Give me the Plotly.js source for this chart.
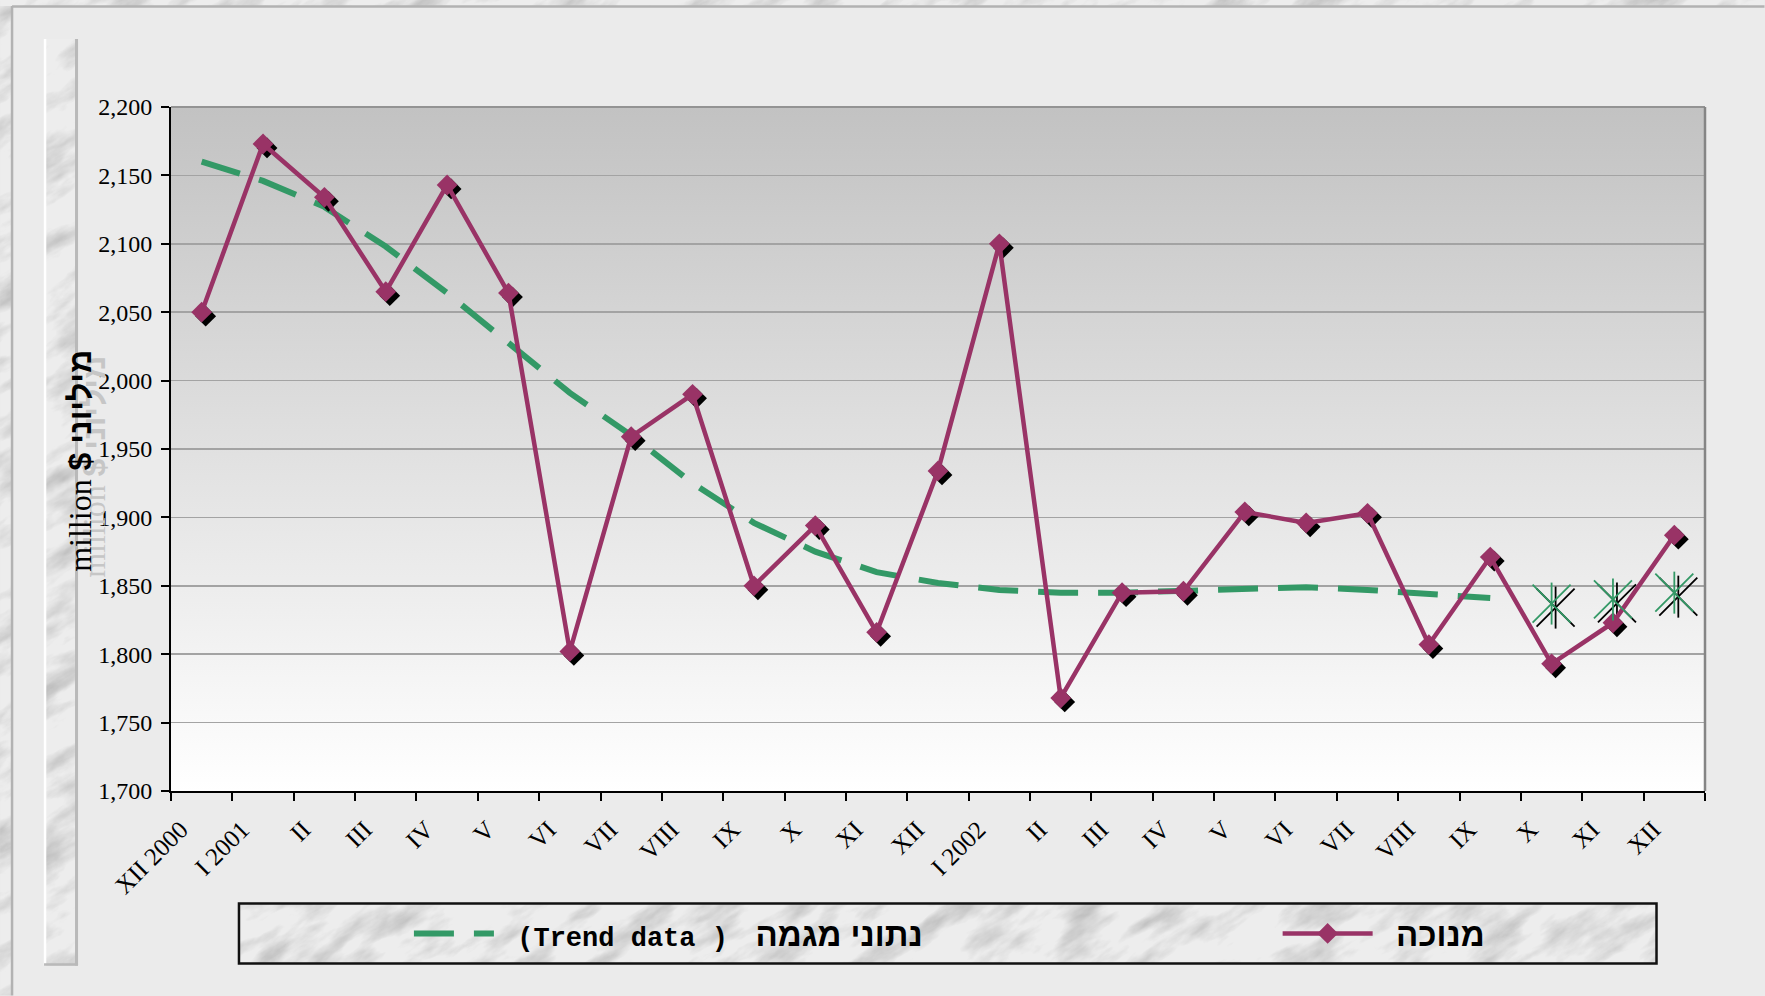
<!DOCTYPE html>
<html>
<head>
<meta charset="utf-8">
<script src="https://cdn.plot.ly/plotly-3.0.1.min.js"></script>
<style>
  html, body { margin: 0; padding: 0; background: #ebebeb; }
  #chart { width: 1765px; height: 996px; }
</style>
</head>
<body>
<div id="chart"></div>
<script>
// ---------------------------------------------------------------------------
//  Monthly series, XII 2000 – XII 2002 (million $)
// ---------------------------------------------------------------------------
const periods = ['2000-12', '2001-01', '2001-02', '2001-03', '2001-04', '2001-05', '2001-06',
  '2001-07', '2001-08', '2001-09', '2001-10', '2001-11', '2001-12', '2002-01', '2002-02',
  '2002-03', '2002-04', '2002-05', '2002-06', '2002-07', '2002-08', '2002-09', '2002-10',
  '2002-11', '2002-12'];
const tickLabels = ['XII 2000', 'I 2001', 'II', 'III', 'IV', 'V', 'VI', 'VII', 'VIII', 'IX', 'X',
  'XI', 'XII', 'I 2002', 'II', 'III', 'IV', 'V', 'VI', 'VII', 'VIII', 'IX', 'X', 'XI', 'XII'];

// seasonally adjusted (מנוכה)
const adjusted = [2050, 2173, 2134, 2065, 2143, 2064, 1802, 1959, 1990, 1850, 1894, 1816, 1934,
  2100, 1768, 1845, 1846, 1904, 1896, 1903, 1807, 1871, 1793, 1823, 1887];
// trend data (נתוני מגמה), XII 2000 – IX 2002
const trend = [2160, 2146, 2127, 2098, 2064, 2027, 1991, 1960, 1925, 1896, 1875, 1860, 1852,
  1847, 1845, 1845, 1846, 1848, 1849, 1847, 1844, 1841];
// trend estimates shown as stars, X – XII 2002
const trendEstimate = [1837, 1840, 1845];

const PURPLE = '#993366', GREEN = '#339966';

// plot area in page pixels
const L = 171, R = 1705.5, T = 107, B = 791.4, PW = R - L, PH = B - T;
const fx = (px) => (px - L) / PW;
const fy = (py) => (B - py) / PH;

// shadow offset (px) -> shifted overlay ranges
const SH = 4, dX = SH / (PW / periods.length), dY = SH / (PH / 500);

function svgUri(svg) { return 'data:image/svg+xml;charset=utf-8,' + encodeURIComponent(svg); }

function marble(w, h, seed) {
  const s = 1.6 * Math.max(w, h), ox = w / 2 - s / 2, oy = h / 2 - s / 2;
  return svgUri(`<svg xmlns="http://www.w3.org/2000/svg" width="${w}" height="${h}" viewBox="0 0 ${w} ${h}">
<filter id="f" filterUnits="userSpaceOnUse" x="${ox}" y="${oy}" width="${s}" height="${s}">
<feTurbulence type="fractalNoise" baseFrequency="0.014 0.04" numOctaves="5" seed="${seed}"/>
<feColorMatrix type="matrix" values="0 0 0 0 0.45  0 0 0 0 0.45  0 0 0 0 0.45  2.0 0 0 0 -0.9"/>
</filter>
<rect width="${w}" height="${h}" fill="#ededed"/>
<g transform="rotate(-32 ${w / 2} ${h / 2})"><rect x="${ox}" y="${oy}" width="${s}" height="${s}" filter="url(#f)"/></g>
</svg>`);
}

const gradient = svgUri(`<svg xmlns="http://www.w3.org/2000/svg" width="100" height="100" preserveAspectRatio="none">
<defs><linearGradient id="g" x1="0" y1="0" x2="0" y2="1">
<stop offset="0" stop-color="#c2c2c2"/><stop offset="1" stop-color="#ffffff"/></linearGradient></defs>
<rect width="100" height="100" fill="url(#g)"/></svg>`);

function pxImage(source, x0, y0, x1, y1) {
  return { source, xref: 'paper', yref: 'paper', x: fx(x0), y: fy(y0),
    sizex: (x1 - x0) / PW, sizey: (y1 - y0) / PH, xanchor: 'left', yanchor: 'top',
    sizing: 'stretch', layer: 'below' };
}
function pxLine(x0, y0, x1, y1, color, width) {
  return { type: 'line', xref: 'paper', yref: 'paper', x0: fx(x0), y0: fy(y0), x1: fx(x1), y1: fy(y1),
    line: { color, width } };
}

// ---------------------------------------------------------------------------
const trendN = trend.length;
const traces = [
  { x: periods.slice(0, trendN), y: trend, mode: 'lines', xaxis: 'x', yaxis: 'y', legend: 'legend',
    line: { color: GREEN, width: 6, dash: '40px,20px' },
    name: '&nbsp;&nbsp;<b><span style="font-family:Liberation Mono;font-size:27px">(Trend data )</span>&nbsp;&nbsp; נתוני מגמה</b>' },
  // black drop shadows
  { x: periods, y: adjusted, mode: 'markers', xaxis: 'x2', yaxis: 'y2', showlegend: false,
    marker: { symbol: 'diamond', size: 16, color: '#000' } },
  { x: periods.slice(trendN), y: trendEstimate, mode: 'markers', xaxis: 'x2', yaxis: 'y2', showlegend: false,
    marker: { symbol: 'x-thin-open', size: 38, color: '#000', line: { color: '#000', width: 1.8 } } },
  { x: periods.slice(trendN), y: trendEstimate, mode: 'markers', xaxis: 'x2', yaxis: 'y2', showlegend: false,
    marker: { symbol: 'line-ns-open', size: 30, color: '#000', line: { color: '#000', width: 1.8 } } },
  // seasonally adjusted line
  { x: periods, y: adjusted, mode: 'lines+markers', xaxis: 'x3', yaxis: 'y3', legend: 'legend2',
    line: { color: PURPLE, width: 4.5 }, marker: { symbol: 'diamond', size: 16, color: PURPLE },
    name: '&nbsp;&nbsp;<b>מנוכה</b>' },
  { x: periods.slice(trendN), y: trendEstimate, mode: 'markers', xaxis: 'x3', yaxis: 'y3', showlegend: false,
    marker: { symbol: 'x-thin-open', size: 38, color: GREEN, line: { color: GREEN, width: 1.8 } } },
  { x: periods.slice(trendN), y: trendEstimate, mode: 'markers', xaxis: 'x3', yaxis: 'y3', showlegend: false,
    marker: { symbol: 'line-ns-open', size: 30, color: GREEN, line: { color: GREEN, width: 1.8 } } },
];

const catAxis = { type: 'category', categoryorder: 'array', categoryarray: periods };
const yTitle = '<span style="font-family:Liberation Serif">million</span> <b>$ מיליוני</b>';
const legendFont = { family: 'Liberation Sans, DejaVu Sans, sans-serif', size: 33, color: '#000' };

const layout = {
  width: 1765, height: 996,
  margin: { l: L, r: 1765 - R, t: T, b: 996 - B, pad: 0 },
  paper_bgcolor: '#ebebeb', plot_bgcolor: 'rgba(0,0,0,0)',
  font: { family: 'Liberation Serif, Times New Roman, serif', color: '#000' },
  showlegend: true,
  legend: { orientation: 'h', x: fx(409), y: fy(934), xanchor: 'left', yanchor: 'middle',
    bgcolor: 'rgba(0,0,0,0)', borderwidth: 0, itemwidth: 80, font: legendFont },
  legend2: { orientation: 'h', x: fx(1278), y: fy(934), xanchor: 'left', yanchor: 'middle',
    bgcolor: 'rgba(0,0,0,0)', borderwidth: 0, itemwidth: 90, font: legendFont },
  xaxis: Object.assign({}, catAxis, {
    range: [-0.5, periods.length - 0.5],
    tickmode: 'array', tickvals: periods, ticktext: tickLabels, tickson: 'boundaries',
    tickangle: -45, ticks: 'outside', ticklen: 8, tickwidth: 2, tickcolor: '#000',
    ticklabelshift: -21, ticklabelstandoff: 12,
    tickfont: { family: 'Liberation Serif', size: 25, color: '#000' },
    showline: true, linecolor: '#000', linewidth: 2, showgrid: false, zeroline: false }),
  yaxis: { range: [1700, 2200], tick0: 1700, dtick: 50, tickformat: ',d',
    ticks: 'outside', ticklen: 8, tickwidth: 2, tickcolor: '#000', ticklabelstandoff: 4,
    tickfont: { family: 'Liberation Serif', size: 24, color: '#000' },
    showline: true, linecolor: '#000', linewidth: 2,
    showgrid: true, gridcolor: '#a3a3a3', gridwidth: 1.5, zeroline: false },
  xaxis2: Object.assign({}, catAxis, { overlaying: 'x', visible: false,
    range: [-0.5 - dX, periods.length - 0.5 - dX] }),
  yaxis2: { overlaying: 'y', visible: false, range: [1700 + dY, 2200 + dY] },
  xaxis3: Object.assign({}, catAxis, { overlaying: 'x', visible: false,
    range: [-0.5, periods.length - 0.5] }),
  yaxis3: { overlaying: 'y', visible: false, range: [1700, 2200] },
  images: [
    pxImage(gradient, L, T, R, B),
    pxImage(marble(11, 996, 7), 0, 0, 11, 996),
    pxImage(marble(1765, 6, 11), 0, 0, 1765, 6),
    pxImage(marble(34, 927, 3), 44, 39, 78, 966),
    pxImage(marble(1418, 60, 5), 239, 904, 1657, 964),
  ],
  shapes: [
    pxLine(12, 6, 12, 996, '#b2b2b2', 2.5),
    pxLine(12, 6.5, 1765, 6.5, '#b2b2b2', 2.5),
    pxLine(45, 39, 45, 966, '#ffffff', 2.5),
    pxLine(76.5, 39, 76.5, 966, '#b9b9b9', 3),
    pxLine(44, 965, 78, 965, '#b9b9b9', 2.5),
    pxLine(L, T, R, T, '#939393', 2),
    pxLine(R, T, R, B, '#858585', 2.5),
    { type: 'rect', xref: 'paper', yref: 'paper', x0: fx(239), y0: fy(904), x1: fx(1657), y1: fy(964),
      line: { color: '#111', width: 2.5 } },
  ],
  annotations: [
    { xref: 'paper', yref: 'paper', x: fx(80), y: fy(461), xanchor: 'center', yanchor: 'middle',
      xshift: 14, yshift: -6, showarrow: false, textangle: -90, text: yTitle,
      font: { family: 'Liberation Sans, DejaVu Sans, sans-serif', size: 32, color: '#c6c6c6' } },
    { xref: 'paper', yref: 'paper', x: fx(80), y: fy(461), xanchor: 'center', yanchor: 'middle',
      showarrow: false, textangle: -90, text: yTitle,
      font: { family: 'Liberation Sans, DejaVu Sans, sans-serif', size: 32, color: '#000' } },
  ],
};

Plotly.newPlot('chart', traces, layout, { staticPlot: true, displayModeBar: false });
</script>
</body>
</html>
